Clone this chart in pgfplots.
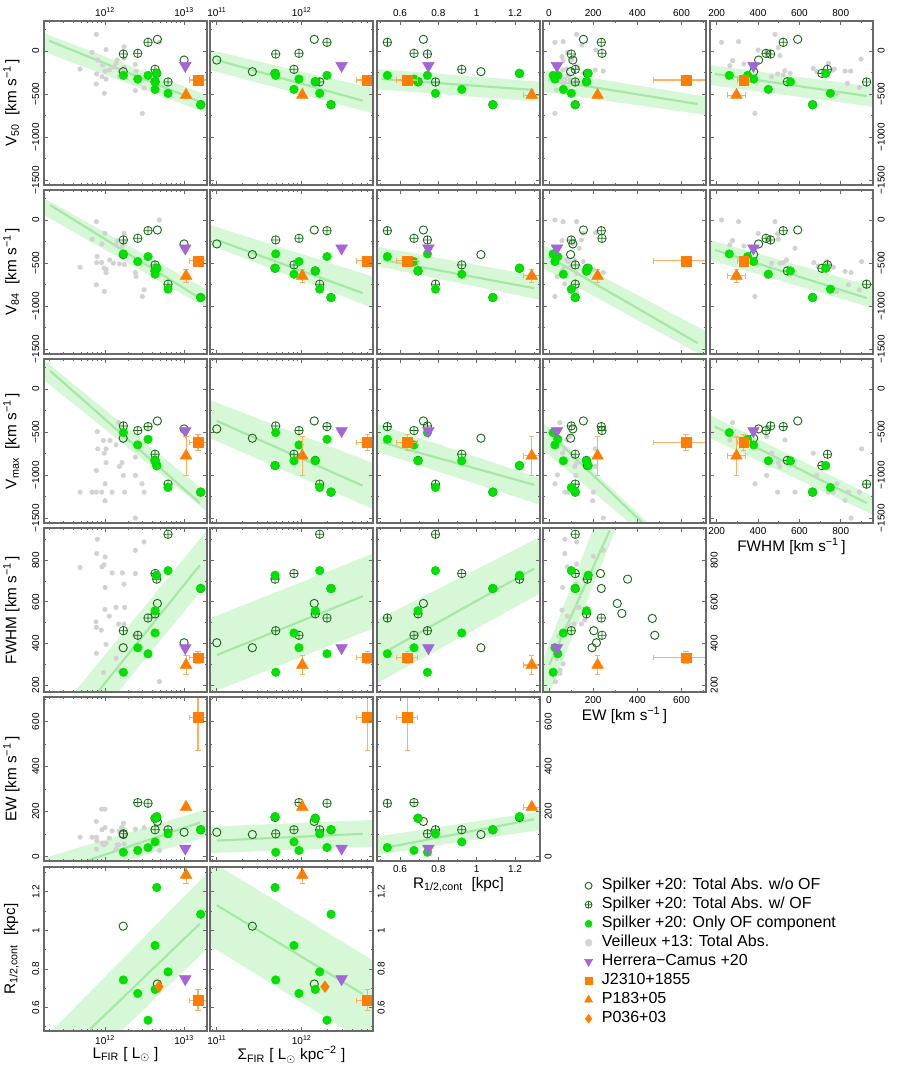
\documentclass[border=0pt]{standalone}
\usepackage{fontspec}
\setmainfont{Liberation Sans}
\usepackage{pgfplots}
\usepackage{pgfplotstable}
\pgfplotsset{compat=1.18}
\definecolor{dkgreen}{RGB}{25,110,25}
\definecolor{brgreen}{RGB}{0,225,0}
\definecolor{vgray}{RGB}{210,210,210}
\definecolor{hcpurple}{RGB}{165,100,215}
\definecolor{qorange}{RGB}{255,125,0}
\definecolor{errorange}{RGB}{255,175,100}
\definecolor{bandgreen}{RGB}{214,248,214}
\definecolor{linegreen}{RGB}{165,232,165}
\definecolor{framegray}{RGB}{105,105,105}

% Spilker +20 galaxies with outflow: total (t) and OF component (o)
\pgfplotstableread{
name L S R EWt FWt V50t V84t Vmt EWo FWo V50o V84o Vmo
A 12.654 11.686 1.223 174 709 -260 -561 -890 178 728 -260 -561 -890
C 12.232 11.694 0.743 101 461 -35 -232 -429 19 261 -283 -394 -507
D 12.633 11.909 0.922 119 736 -213 -522 -758 65 450 -446 -630 -835
E 12.414 11.968 0.673 240 439 -27 -213 -483 27 379 -326 -483 -650
G 12.633 12.160 0.694 170 542 -357 -592 -830 170 557 -357 -592 -835
H 12.797 12.212 0.785 119 925 -360 -746 -1106 101 750 -492 -804 -1145
I 12.544 12.298 0.534 237 522 101 -124 -437 40 350 -283 -425 -584
J 13.210 12.345 1.084 119 664 -624 -901 -1199 119 664 -624 -901 -1199
}\spOF
% Spilker +20 galaxies without outflow
\pgfplotstableread{
name L S R EW FW V50 V84 Vm
B 12.230 11.419 1.022 98 379 -240 -402 -572
F 12.662 12.148 0.722 156 592 136 -116 -371
K 13.000 11.000 nan 108 403 -105 -278 -464
}\spNo
\pgfplotstableread{
L S R EW FW V50 V84 Vm
13.015 12.47 0.748 36 378 -171 -329 -487
}\hcT
\pgfplotstableread{
L S R EW FW V50 V84 Vm eL eS eR eEW eFW eV50 eV84 eVm
13.176 12.772 0.638 620 331 -337 -476 -623 0.11 0.13 0.055 148 30 0 0 90
}\sqT
\pgfplotstableread{
L S R EW FW V50 V84 Vm eL eS eR eEW eFW eV50 eV84 eVm
13.025 12.007 1.287 220 296 -512 -650 -777 0 0 0.045 0 45 0 77 225
}\trT
\pgfplotstableread{
L S R
12.683 12.274 0.708
}\dmT

\pgfplotsset{
 panel/.style={scale only axis, width=122.25pt, height=123pt, anchor=north west,
   axis on top, clip marker paths=true,
   axis line style={line width=1.1pt, framegray},
   tick align=inside, major tick length=3.2pt, minor tick length=1.8pt,
   tick style={framegray, line width=0.6pt},
   xticklabels={}, yticklabels={},
   ticklabel style={font=\fontsize{7.5}{8}\selectfont},
   label style={font=\fontsize{11.5}{13}\selectfont},
   xlabel style={at={(axis description cs:0.5,-0.145)}, anchor=center},
   ylabel style={at={(axis description cs:-0.2,0.5)}, anchor=center}},
 cL/.style={xmin=11.228,xmax=13.29,xtick={12,13},minor xtick={11.301,11.477,11.602,11.699,11.778,11.845,11.903,11.954,12.301,12.477,12.602,12.699,12.778,12.845,12.903,12.954}},
 cS/.style={xmin=10.92,xmax=12.84,xtick={11,12},minor xtick={10.954,11.301,11.477,11.602,11.699,11.778,11.845,11.903,11.954,12.301,12.477,12.602,12.699,12.778}},
 cR/.style={xmin=0.48,xmax=1.33,xtick={0.6,0.8,1.0,1.2},minor xtick={0.5,0.7,0.9,1.1,1.3}},
 cE/.style={xmin=-27,xmax=711,xtick={0,200,400,600},minor xtick={100,300,500,700}},
 cF/.style={xmin=168,xmax=956,xtick={200,400,600,800},minor xtick={300,500,700,900}},
 rV/.style={ymin=-1558,ymax=349,ytick={-1500,-1000,-500,0},minor ytick={-1250,-750,-250,250}},
 rF/.style={ymin=166,ymax=955,ytick={200,400,600,800},minor ytick={300,500,700,900}},
 rE/.style={ymin=-20,ymax=710,ytick={0,200,400,600},minor ytick={100,300,500,700}},
 rR/.style={ymin=0.478,ymax=1.329,ytick={0.6,0.8,1.0,1.2},minor ytick={0.5,0.7,0.9,1.1,1.3}},
 xlabL/.style={xticklabels={10\textsuperscript{12},10\textsuperscript{13}}},
 xlabS/.style={xticklabels={10\textsuperscript{11},10\textsuperscript{12}}},
 xlabR/.style={xticklabels={0.6,0.8,1,1.2}},
 xlabE/.style={xticklabels={0,200,400,600}},
 xlabF/.style={xticklabels={200,400,600,800}},
 ylabV/.style={yticklabels={−1500,−1000,−500,0}},
 ylabF/.style={yticklabels={200,400,600,800}},
 ylabE/.style={yticklabels={0,200,400,600}},
 ylabR/.style={yticklabels={0.6,0.8,1,1.2}},
 xlT/.style={xticklabel pos=upper},
 ylL/.style={yticklabel style={rotate=90,anchor=south}},
 ylR/.style={yticklabel pos=right, yticklabel style={rotate=90,anchor=north}},
 bandst/.style={fill=bandgreen, draw=none},
 lnst/.style={linegreen, line width=1.6pt, no marks},
 gry/.style={only marks, mark=*, mark size=1.7pt, vgray, mark options={draw=vgray, fill=vgray}},
 opn/.style={only marks, mark=o, mark size=3.1pt, dkgreen, mark options={line width=0.7pt}},
 opl/.style={only marks, mark=oplus, mark size=3.2pt, dkgreen, mark options={line width=0.6pt}},
 fil/.style={only marks, mark=*, mark size=3.2pt, brgreen, mark options={draw=brgreen, fill=brgreen}},
 hcst/.style={only marks, mark=triangle*, mark size=5pt, hcpurple, mark options={rotate=180, draw=hcpurple, fill=hcpurple}},
 sqst/.style={only marks, mark=square*, mark size=3.7pt, qorange, mark options={draw=qorange, fill=qorange}},
 trist/.style={only marks, mark=triangle*, mark size=5pt, qorange, mark options={draw=qorange, fill=qorange}},
 diast/.style={only marks, mark=diamond*, mark size=4.3pt, qorange, mark options={draw=qorange, fill=qorange}},
 errst/.style={error bars/x dir=both, error bars/x explicit, error bars/y dir=both, error bars/y explicit,
   error bars/error bar style={errorange, line width=0.8pt},
   error bars/error mark options={rotate=90, errorange, mark size=2pt, line width=0.8pt}},
}
\newcommand{\spk}[6]{%
 \addplot[opn] table[x=#1,y=#2]{\spNo};
 \addplot[opl] table[x=#3,y=#4]{\spOF};
 \addplot[fil] table[x=#5,y=#6]{\spOF};
}
\newcommand{\oth}[2]{%
 \addplot[hcst] table[x=#1,y=#2]{\hcT};
 \addplot[sqst,errst] table[x=#1,y=#2,x error=e#1,y error=e#2]{\sqT};
 \addplot[trist,errst] table[x=#1,y=#2,x error=e#1,y error=e#2]{\trT};
}

\begin{document}
\begin{tikzpicture}
\useasboundingbox (0,0) rectangle (675pt,-804pt);

% ================= Row 1: V50 =================
\begin{axis}[panel,cL,rV,xlabL,xlT,ylabV,ylL,at={(33pt,-15.75pt)},ylabel={V\textsubscript{50}\ \ [km s\textsuperscript{−1}\,]}]
\addplot[bandst] coordinates {(11.228,206) (13.29,-512) (13.29,-724) (11.228,-8)};
\addplot[lnst] coordinates {(11.29,120) (13.2,-589)};
\addplot[gry] coordinates {(11.684,-209) (11.836,-16) (11.890,194) (11.895,-267) (11.908,-105) (11.890,-384) (11.962,-298) (11.971,-163) (12.000,-233) (12.013,16) (11.991,-492) (12.013,-326) (12.055,-221) (12.105,-186) (12.139,-143) (12.156,-105) (12.181,-298) (12.190,-229) (12.241,50) (12.241,-85) (12.245,-252) (12.384,-155) (12.393,-236) (12.384,-461) (12.472,-725) (12.494,-430) (12.688,101) (12.241,-190)};
\spk{L}{V50}{L}{V50t}{L}{V50o}
\oth{L}{V50}
\end{axis}
\begin{axis}[panel,cS,rV,xlabS,xlT,at={(157.5pt,-15.75pt)}]
\addplot[bandst] coordinates {(10.92,12) (12.84,-434) (12.84,-724) (10.92,-221)};
\addplot[lnst] coordinates {(11.0,-105) (12.72,-578)};
\spk{S}{V50}{S}{V50t}{S}{V50o}
\oth{S}{V50}
\end{axis}
\begin{axis}[panel,cR,rV,xlabR,xlT,at={(282.75pt,-15.75pt)}]
\addplot[bandst] coordinates {(0.48,-209) (1.33,-357) (1.33,-590) (0.48,-446)};
\addplot[lnst] coordinates {(0.504,-326) (1.30,-453)};
\spk{R}{V50}{R}{V50t}{R}{V50o}
\oth{R}{V50}
\end{axis}
\begin{axis}[panel,cE,rV,xlabE,xlT,at={(407.25pt,-15.75pt)}]
\addplot[bandst] coordinates {(-27,-221) (711,-531) (711,-744) (-27,-473)};
\addplot[lnst] coordinates {(-3,-337) (672,-616)};
\addplot[gry] coordinates {(27,101) (64,109) (125,194) (84,-16) (59,-66) (64,-112) (38,-163) (62,-221) (80,-209) (87,-279) (95,-337) (57,-357) (68,-376) (122,-357) (149,70) (128,-182) (212,12) (209,-221) (246,-233) (27,-725) (35,-454) (72,-329) (158,-260) (104,-105) (50,-298)};
\spk{EW}{V50}{EWt}{V50t}{EWo}{V50o}
\oth{EW}{V50}
\end{axis}
\begin{axis}[panel,cF,rV,xlabF,xlT,ylabV,ylR,at={(532.5pt,-15.75pt)}]
\addplot[bandst] coordinates {(168,-163) (956,-415) (956,-647) (168,-395)};
\addplot[lnst] coordinates {(192,-267) (926,-523)};
\addplot[gry] coordinates {(224,101) (277,-112) (264,-171) (306,109) (332,-151) (401,12) (442,-16) (482,194) (498,39) (506,-54) (495,-267) (466,-298) (530,-229) (442,-454) (385,-725) (574,-357) (667,-202) (684,-240) (740,-143) (761,-221) (769,-209) (781,-492) (821,-233) (848,-233) (832,-376) (890,-423) (898,-93) (555,-260) (522,-279)};
\spk{FW}{V50}{FWt}{V50t}{FWo}{V50o}
\oth{FW}{V50}
\end{axis}

% ================= Row 2: V84 =================
\begin{axis}[panel,cL,rV,ylabV,ylL,at={(33pt,-142.5pt)},ylabel={V\textsubscript{84}\ \ [km s\textsuperscript{−1}\,]}]
\addplot[bandst] coordinates {(11.228,255) (13.29,-812) (13.29,-1024) (11.228,58)};
\addplot[lnst] coordinates {(11.306,174) (13.2,-908)};
\addplot[gry] coordinates {(11.684,-549) (11.836,-224) (11.890,-19) (11.899,-425) (11.895,-495) (11.890,-754) (11.962,-278) (11.958,-495) (11.987,-561) (12.000,-155) (12.013,-572) (12.013,-611) (11.991,-831) (12.059,-464) (12.139,-290) (12.156,-240) (12.181,-510) (12.220,-309) (12.241,-155) (12.245,-518) (12.384,-611) (12.393,-657) (12.494,-812) (12.472,-889) (12.688,0) (12.241,-251) (12.105,-503)};
\spk{L}{V84}{L}{V84t}{L}{V84o}
\oth{L}{V84}
\end{axis}
\begin{axis}[panel,cS,rV,at={(157.5pt,-142.5pt)}]
\addplot[bandst] coordinates {(10.92,-58) (12.84,-658) (12.84,-1024) (10.92,-290)};
\addplot[lnst] coordinates {(11.0,-232) (12.72,-850)};
\spk{S}{V84}{S}{V84t}{S}{V84o}
\oth{S}{V84}
\end{axis}
\begin{axis}[panel,cR,rV,at={(282.75pt,-142.5pt)}]
\addplot[bandst] coordinates {(0.48,-310) (1.33,-658) (1.33,-928) (0.48,-534)};
\addplot[lnst] coordinates {(0.51,-464) (1.30,-793)};
\spk{R}{V84}{R}{V84t}{R}{V84o}
\oth{R}{V84}
\end{axis}
\begin{axis}[panel,cE,rV,at={(407.25pt,-142.5pt)}]
\addplot[bandst] coordinates {(-27,-290) (711,-1296) (711,-1600) (-27,-560)};
\addplot[lnst] coordinates {(-3,-426) (672,-1430)};
\addplot[gry] coordinates {(27,0) (64,-19) (125,-19) (155,-155) (147,-232) (212,-147) (59,-240) (80,-464) (64,-572) (38,-657) (72,-657) (87,-483) (98,-549) (117,-472) (125,-619) (122,-812) (125,-851) (72,-742) (27,-889) (155,-483) (201,-580) (246,-611) (137,-329) (110,-271)};
\spk{EW}{V84}{EWt}{V84t}{EWo}{V84o}
\oth{EW}{V84}
\end{axis}
\begin{axis}[panel,cF,rV,ylabV,ylR,at={(532.5pt,-142.5pt)}]
\addplot[bandst] coordinates {(168,-232) (956,-774) (956,-1024) (168,-464)};
\addplot[lnst] coordinates {(192,-348) (926,-908)};
\addplot[gry] coordinates {(224,0) (264,-290) (277,-240) (306,-19) (332,-302) (401,-155) (442,-657) (482,-19) (495,-162) (498,-224) (506,-503) (466,-503) (538,-464) (579,-329) (385,-889) (670,-495) (691,-534) (732,-483) (740,-503) (764,-549) (781,-831) (821,-599) (837,-754) (850,-611) (890,-812) (901,-483) (522,-495)};
\spk{FW}{V84}{FWt}{V84t}{FWo}{V84o}
\oth{FW}{V84}
\end{axis}

% ================= Row 3: Vmax =================
\begin{axis}[panel,cL,rV,ylabV,ylL,at={(33pt,-269.25pt)},ylabel={V\textsubscript{max}\ \ [km s\textsuperscript{−1}\,]}]
\addplot[bandst] coordinates {(11.228,336) (13.29,-1210) (13.29,-1423) (11.228,104)};
\addplot[lnst] coordinates {(11.306,212) (13.2,-1326)};
\addplot[gry] coordinates {(11.684,-1199) (11.836,-1199) (11.890,-1199) (11.958,-1199) (12.089,-1199) (12.249,-1199) (12.494,-1199) (11.903,-495) (11.890,-947) (11.908,-696) (11.979,-599) (11.991,-746) (12.013,-696) (12.013,-855) (12.063,-599) (12.139,-650) (12.173,-391) (12.181,-901) (12.215,-855) (12.232,-1005) (12.000,-1102) (12.000,-1299) (12.384,-793) (12.384,-1005) (12.468,-1102) (12.384,-1500) (12.190,-476)};
\spk{L}{Vm}{L}{Vmt}{L}{Vmo}
\oth{L}{Vm}
\end{axis}
\begin{axis}[panel,cS,rV,at={(157.5pt,-269.25pt)}]
\addplot[bandst] coordinates {(10.92,-128) (12.84,-862) (12.84,-1395) (10.92,-572)};
\addplot[lnst] coordinates {(11.0,-371) (12.72,-1125)};
\spk{S}{Vm}{S}{Vmt}{S}{Vmo}
\oth{S}{Vm}
\end{axis}
\begin{axis}[panel,cR,rV,at={(282.75pt,-269.25pt)}]
\addplot[bandst] coordinates {(0.48,-406) (1.33,-1036) (1.33,-1346) (0.48,-727)};
\addplot[lnst] coordinates {(0.51,-623) (1.30,-1114)};
\spk{R}{Vm}{R}{Vmt}{R}{Vmo}
\oth{R}{Vm}
\end{axis}
\begin{axis}[panel,cE,rV,at={(407.25pt,-269.25pt)}]
\addplot[bandst] coordinates {(-27,-398) (700,-2172) (700,-2278) (-27,-708)};
\addplot[lnst] coordinates {(-3,-500) (700,-2240)};
\addplot[gry] coordinates {(49,-391) (80,-592) (72,-696) (62,-746) (113,-793) (117,-901) (122,-1005) (209,-696) (210,-901) (38,-998) (27,-1102) (72,-1199) (87,-1199) (117,-1199) (201,-1199) (198,-1299) (246,-1500) (95,-553) (125,-862)};
\spk{EW}{Vm}{EWt}{Vmt}{EWo}{Vmo}
\oth{EW}{Vm}
\end{axis}
\begin{axis}[panel,cF,rV,xlabF,ylabV,ylR,at={(532.5pt,-269.25pt)},xlabel={FWHM [km s\textsuperscript{−1}\,]}]
\addplot[bandst] coordinates {(168,-302) (956,-1249) (956,-1462) (168,-572)};
\addplot[lnst] coordinates {(192,-437) (926,-1326)};
\addplot[gry] coordinates {(277,-391) (264,-592) (442,-553) (466,-746) (498,-855) (506,-901) (442,-1005) (385,-1102) (495,-1199) (530,-592) (579,-1199) (667,-746) (684,-1005) (740,-1199) (764,-1199) (781,-1102) (821,-1296) (837,-1199) (850,-1500) (890,-1199) (901,-696)};
\spk{FW}{Vm}{FWt}{Vmt}{FWo}{Vmo}
\oth{FW}{Vm}
\end{axis}

% ================= Row 4: FWHM =================
\begin{axis}[panel,cL,rF,ylabF,ylL,at={(33pt,-396pt)},ylabel={FWHM [km s\textsuperscript{−1}\,]}]
\addplot[bandst] coordinates {(11.228,-14) (13.29,944) (13.29,688) (11.228,-269)};
\addplot[lnst] coordinates {(11.895,160) (13.2,776)};
\addplot[gry] coordinates {(11.684,765) (11.903,901) (11.895,832) (12.000,816) (11.962,768) (11.987,778) (12.089,739) (12.220,739) (12.384,736) (12.384,848) (12.494,888) (12.000,669) (12.000,563) (12.055,531) (12.139,573) (12.173,493) (12.241,493) (12.249,573) (12.241,685) (11.886,504) (11.890,477) (11.953,464) (11.890,352) (12.013,395) (12.139,328) (12.173,272) (11.979,259) (12.371,439) (12.464,381) (12.688,216)};
\spk{L}{FW}{L}{FWt}{L}{FWo}
\oth{L}{FW}
\end{axis}
\begin{axis}[panel,cS,rF,at={(157.5pt,-396pt)}]
\addplot[bandst] coordinates {(10.92,520) (12.84,832) (12.84,472) (10.92,160)};
\addplot[lnst] coordinates {(11.0,344) (12.72,627)};
\spk{S}{FW}{S}{FWt}{S}{FWo}
\oth{S}{FW}
\end{axis}
\begin{axis}[panel,cR,rF,at={(282.75pt,-396pt)}]
\addplot[bandst] coordinates {(0.48,512) (1.33,912) (1.33,640) (0.48,208)};
\addplot[lnst] coordinates {(0.51,352) (1.30,760)};
\spk{R}{FW}{R}{FWt}{R}{FWo}
\oth{R}{FW}
\end{axis}
\begin{axis}[panel,cE,rF,xlabE,ylabF,ylR,at={(407.25pt,-396pt)},xlabel={EW [km s\textsuperscript{−1}\,]}]
\addplot[bandst] coordinates {(-27,320) (400,1507) (400,1205) (-27,82)};
\addplot[lnst] coordinates {(1,296) (275,944)};
\addplot[gry] coordinates {(72,901) (125,888) (72,832) (83,768) (125,781) (62,669) (122,685) (201,819) (246,848) (59,560) (83,531) (87,491) (113,493) (125,573) (137,573) (147,493) (162,512) (44,435) (64,448) (50,272) (64,301) (29,216) (50,256) (35,328)};
\addplot[opn] coordinates {(233,736) (237,664) (356,709) (309,592) (330,544) (468,520) (479,439) (203,461) (215,403) (195,379)};
\addplot[opl] table[x=EWt,y=FWt]{\spOF};
\addplot[fil] table[x=EWo,y=FWo]{\spOF};
\oth{EW}{FW}
\end{axis}

% ================= Row 5: EW =================
\begin{axis}[panel,cL,rE,ylabE,ylL,at={(33pt,-522.75pt)},ylabel={EW [km s\textsuperscript{−1}\,]}]
\addplot[bandst] coordinates {(11.228,-7) (13.29,211) (13.29,89) (11.228,-129)};
\addplot[lnst] coordinates {(11.77,-19) (13.2,151)};
\addplot[gry] coordinates {(11.684,86) (11.836,86) (11.890,156) (11.895,71) (11.890,33) (11.958,211) (11.962,59) (12.000,211) (12.000,128) (12.013,59) (11.987,52) (12.055,82) (12.089,114) (12.139,33) (12.156,52) (12.173,52) (12.181,113) (12.211,129) (12.236,148) (12.241,56) (12.249,89) (12.245,119) (12.384,122) (12.393,37) (12.494,128) (12.688,27) (11.890,86) (11.962,119)};
\spk{L}{EW}{L}{EWt}{L}{EWo}
\oth{L}{EW}
\end{axis}
\begin{axis}[panel,cS,rE,at={(157.5pt,-522.75pt)}]
\addplot[bandst] coordinates {(10.92,133) (12.84,163) (12.84,44) (10.92,15)};
\addplot[lnst] coordinates {(11.0,71) (12.72,101)};
\spk{S}{EW}{S}{EWt}{S}{EWo}
\oth{S}{EW}
\end{axis}
\begin{axis}[panel,cR,rE,xlabR,ylabE,ylR,at={(282.75pt,-522.75pt)},xlabel={R\textsubscript{1/2,cont}\ \ [kpc]}]
\addplot[bandst] coordinates {(0.48,89) (1.33,200) (1.33,119) (0.48,7)};
\addplot[lnst] coordinates {(0.51,37) (1.30,166)};
\spk{R}{EW}{R}{EWt}{R}{EWo}
\oth{R}{EW}
\end{axis}

% ================= Row 6: R =================
\begin{axis}[panel,cL,rR,xlabL,ylabR,ylL,at={(33pt,-650.25pt)},ylabel={R\textsubscript{1/2,cont}\ \ [kpc]},xlabel={L\textsubscript{FIR} [ L$_\odot$ ]}]
\addplot[bandst] coordinates {(11.228,0.438) (13.29,1.296) (13.29,0.905) (11.228,0.093)};
\addplot[lnst] coordinates {(11.81,0.487) (13.2,1.035)};
\addplot[opn] table[x=L,y=R]{\spNo};
\addplot[fil] table[x=L,y=R]{\spOF};
\oth{L}{R}
\addplot[diast] table[x=L,y=R]{\dmT};
\end{axis}
\begin{axis}[panel,cS,rR,xlabS,ylabR,ylR,at={(157.5pt,-650.25pt)},xlabel={Σ\textsubscript{FIR} [ L$_\odot$ kpc\textsuperscript{−2} ]}]
\addplot[bandst] coordinates {(10.92,1.362) (12.84,0.844) (12.84,0.395) (10.92,0.922)};
\addplot[lnst] coordinates {(11.0,1.131) (12.72,0.670)};
\addplot[opn] table[x=S,y=R]{\spNo};
\addplot[fil] table[x=S,y=R]{\spOF};
\oth{S}{R}
\addplot[diast] table[x=S,y=R]{\dmT};
\end{axis}

% ================= Legend =================
\begin{axis}[hide axis, scale only axis, width=20pt, height=20pt, xmin=0, xmax=1, ymin=0, ymax=1,
  at={(438.5pt,-657.5pt)}, anchor=north west, legend cell align=left,
  legend style={at={(0,1)}, anchor=north west, draw=none, fill=none, inner sep=0pt, outer sep=0pt,
    font=\fontsize{12}{13}\selectfont, row sep=0.65pt, column sep=6pt,
    nodes={inner sep=1pt, text height=8.8pt, text depth=2.8pt}}]
\addlegendimage{opn, mark size=2.6pt}
\addlegendimage{opl, mark size=2.6pt}
\addlegendimage{fil, mark size=2.6pt}
\addlegendimage{gry, mark size=2.6pt}
\addlegendimage{hcst, mark size=3.4pt}
\addlegendimage{sqst, mark size=2.5pt}
\addlegendimage{trist, mark size=3.4pt}
\addlegendimage{diast, mark size=3.2pt}
\legend{Spilker +20: Total Abs. w/o OF, Spilker +20: Total Abs. w/ OF, Spilker +20: Only OF component, Veilleux +13: Total Abs., Herrera−Camus +20, J2310+1855, P183+05, P036+03}
\end{axis}
\end{tikzpicture}
\end{document}
